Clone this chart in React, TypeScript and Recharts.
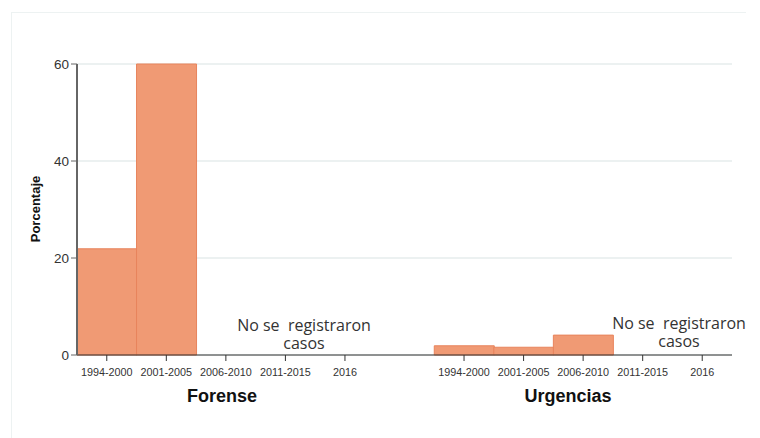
import { BarChart, Bar, XAxis, YAxis, CartesianGrid } from "recharts";

// periods shown under each panel
const periods = ["1994-2000", "2001-2005", "2006-2010", "2011-2015", "2016"];
// percentages per period
const forense = [21.9, 60, 0, 0, 0];
const urgencias = [1.9, 1.6, 4.1, 0, 0];
const yTicks = [0, 20, 40, 60];

const GAP = "gap";

const data = [
  ...periods.map((p, i) => ({ key: "F|" + p, value: forense[i] })),
  { key: GAP, value: 0 },
  ...periods.map((p, i) => ({ key: "U|" + p, value: urgencias[i] })),
];

const FONT = "'Liberation Sans', Arial, sans-serif";

function PeriodTick(props: any) {
  const { x, y, payload } = props;
  if (payload.value === GAP) return null;
  const label = String(payload.value).split("|")[1];
  return (
    <g>
      <line x1={x} x2={x} y1={y - 8} y2={y - 2} stroke="#333" strokeWidth={1} />
      <text
        x={x}
        y={y + 13}
        textAnchor="middle"
        fontSize={10.8}
        fill="#333"
        fontFamily={FONT}
      >
        {label}
      </text>
    </g>
  );
}

const note: React.CSSProperties = {
  position: "absolute",
  fontFamily: "'Open Sans', sans-serif",
  fontSize: 16,
  color: "#333",
  textAlign: "center",
  lineHeight: "18px",
  whiteSpace: "pre",
  transform: "translateX(-50%)",
};

const panelTitle: React.CSSProperties = {
  position: "absolute",
  top: 386,
  transform: "translateX(-50%)",
  fontFamily: FONT,
  fontWeight: "bold",
  fontSize: 18,
  color: "#111",
};

export default function App() {
  return (
    <div
      style={{
        position: "absolute",
        left: 0,
        top: 0,
        width: 760,
        height: 438,
        background: "#fff",
      }}
    >
      <div
        style={{
          position: "absolute",
          left: 11,
          top: 12,
          width: 734,
          height: 426,
          borderTop: "1px solid #edf2f2",
          borderLeft: "1px solid #edf2f2",
        }}
      />
      <BarChart
        width={760}
        height={438}
        data={data}
        barCategoryGap={0}
        margin={{ top: 64, right: 28, left: 0, bottom: 53 }}
        style={{ position: "absolute", left: 0, top: 0 }}
      >
        <CartesianGrid vertical={false} stroke="#e6eded" strokeWidth={1.5} />
        <XAxis
          dataKey="key"
          interval={0}
          tickLine={false}
          axisLine={{ stroke: "#333", strokeWidth: 1 }}
          tick={<PeriodTick />}
          height={30}
        />
        <YAxis
          width={77}
          domain={[0, 60]}
          ticks={yTicks}
          axisLine={{ stroke: "#666", strokeWidth: 2 }}
          tickLine={{ stroke: "#666" }}
          tickSize={6}
          tick={{ fontSize: 13.5, fill: "#333", fontFamily: FONT }}
        />
        <Bar
          dataKey="value"
          fill="#F09A74"
          stroke="#E8845C"
          strokeWidth={1}
          isAnimationActive={false}
        />
      </BarChart>
      <div
        style={{
          position: "absolute",
          left: 35,
          top: 209,
          transform: "translate(-50%, -50%) rotate(-90deg)",
          fontFamily: FONT,
          fontWeight: "bold",
          fontSize: 13,
          color: "#111",
        }}
      >
        Porcentaje
      </div>
      <div style={{ ...panelTitle, left: 222 }}>Forense</div>
      <div style={{ ...panelTitle, left: 568 }}>Urgencias</div>
      <div style={{ ...note, left: 304, top: 316 }}>
        {"No se  registraron\ncasos"}
      </div>
      <div style={{ ...note, left: 679, top: 314 }}>
        {"No se  registraron\ncasos"}
      </div>
    </div>
  );
}
